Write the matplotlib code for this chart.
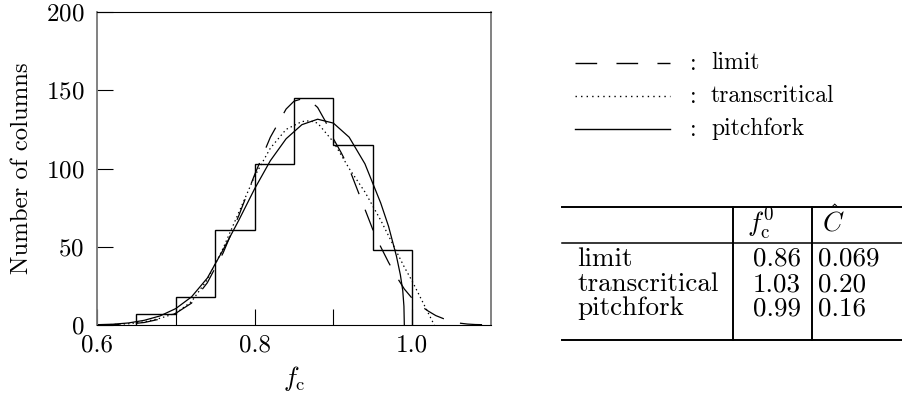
import matplotlib
matplotlib.use("Agg")
import matplotlib.pyplot as plt
from matplotlib.lines import Line2D

plt.rcParams['font.family'] = ['cmr10']
plt.rcParams['mathtext.fontset'] = 'cm'
plt.rcParams['axes.formatter.use_mathtext'] = True
plt.rcParams['lines.scale_dashes'] = False

# histogram of columns
bin_edges = [0.65, 0.70, 0.75, 0.80, 0.85, 0.90, 0.95, 1.00]
counts = [7, 18, 61, 103, 145, 115, 48]

# fitted curves
limit_x = [0.60, 0.62, 0.64, 0.66, 0.68, 0.70, 0.72, 0.74, 0.76, 0.78, 0.80, 0.82, 0.84,
           0.85, 0.86, 0.87, 0.88, 0.89, 0.90, 0.91, 0.92, 0.93, 0.94, 0.95, 0.96, 0.97,
           0.98, 0.99, 1.00, 1.01, 1.02, 1.03, 1.04, 1.05, 1.06, 1.07, 1.08, 1.10]
limit_y = [0.05, 0.2, 0.6, 1.6, 3.8, 7.5, 14, 27, 46, 70, 96, 120, 138,
           143, 144.5, 143.5, 139, 130, 119, 110, 100, 87, 74, 61, 50, 40,
           31, 23, 17, 12.5, 9, 6, 4, 2.4, 1.2, 0.6, 0.3, 0.1]

trans_x = [0.60, 0.62, 0.64, 0.66, 0.68, 0.70, 0.72, 0.74, 0.76, 0.78, 0.80, 0.82, 0.84,
           0.86, 0.87, 0.88, 0.90, 0.92, 0.94, 0.96, 0.98, 0.99, 1.00, 1.01, 1.02, 1.028]
trans_y = [0.1, 0.3, 0.8, 2, 4.3, 7.5, 15, 29, 49, 72, 95, 113, 125,
           130, 130.5, 129, 117, 100, 85, 67, 47, 37, 28, 18, 8, 0]

pitch_x = [0.60, 0.62, 0.64, 0.66, 0.68, 0.70, 0.72, 0.74, 0.76, 0.78, 0.80, 0.82, 0.84,
           0.86, 0.88, 0.90, 0.92, 0.94, 0.96, 0.97, 0.98, 0.985, 0.988, 0.9895, 0.99]
pitch_y = [0.2, 0.5, 1.3, 3, 5.8, 10.5, 18, 30, 48, 67, 87, 105, 119,
           128, 131.5, 129, 120, 103, 78, 63, 44, 32, 22, 12, 0]

# table values
models = ['limit', 'transcritical', 'pitchfork']
fc0 = ['0.86', '1.03', '0.99']
chat = ['0.069', '0.20', '0.16']

fig = plt.figure(figsize=(9.02, 3.97), dpi=100)
ax = fig.add_axes([97/902, 1-325/397, 394/902, 313/397])

ax.stairs(counts, bin_edges, baseline=0, color='k', lw=1.0)
ax.plot(limit_x, limit_y, color='k', lw=0.9, dashes=(16, 12))
ax.plot(trans_x, trans_y, color='k', lw=0.9, dashes=(1, 2.2))
ax.plot(pitch_x, pitch_y, color='k', lw=0.9)

ax.set_xlim(0.6, 1.1)
ax.set_ylim(0, 200)
ax.set_xticks([0.6, 0.8, 1.0])
ax.set_xticklabels(['0.6', '0.8', '1.0'])
ax.set_xticks([0.7, 0.9], minor=True)
ax.set_yticks([0, 50, 100, 150, 200])
ax.tick_params(axis='both', which='both', direction='in', length=11.5, width=0.8,
               labelsize=18, top=False, right=False)
ax.tick_params(axis='x', pad=7)
ax.tick_params(axis='y', pad=9)
for s in ['left', 'right']:
    ax.spines[s].set_color('#777777')
    ax.spines[s].set_linewidth(1.3)
for s in ['top', 'bottom']:
    ax.spines[s].set_color('k')
    ax.spines[s].set_linewidth(0.8)

ax.set_xlabel(r'$f_\mathrm{c}$', fontsize=19, labelpad=5)
ax.set_ylabel('Number of columns', fontsize=17.8, labelpad=9)

# overlay in pixel coordinates for legend and table
ov = fig.add_axes([0, 0, 1, 1])
ov.set_xlim(0, 902)
ov.set_ylim(397, 0)
ov.axis('off')

styles = [dict(dashes=(15.6, 13.9)), dict(dashes=(1, 3)), dict()]
for i, (m, st) in enumerate(zip(models, styles)):
    yy = 63 + 33 * i
    ov.add_line(Line2D([575, 670], [yy, yy], color='k', lw=1.0, **st))
    ov.text(690, yy + 1, ':', fontsize=17, va='center', ha='left', fontweight='bold')
    ov.text(711, yy, m, fontsize=17, va='center', ha='left')

# table
ov.add_line(Line2D([562, 902], [207, 207], color='k', lw=1.4))
ov.add_line(Line2D([562, 902], [243, 243], color='k', lw=1.1))
ov.add_line(Line2D([562, 902], [340, 340], color='k', lw=1.4))
for xv in [733, 812]:
    ov.add_line(Line2D([xv, xv], [207, 340], color='k', lw=1.4))
ov.text(747, 232, r'$f_\mathrm{c}^0$', fontsize=19.5, va='baseline', ha='left')
ov.text(822, 231, r'$\hat{C}$', fontsize=19.5, va='baseline', ha='left')
for i, m in enumerate(models):
    yb = [266, 291, 315][i]
    ov.text(577, yb, m, fontsize=19.5, va='baseline', ha='left')
    ov.text(753, yb, fc0[i], fontsize=19.5, va='baseline', ha='left')
    ov.text(818, yb, chat[i], fontsize=19.5, va='baseline', ha='left')

fig.savefig('out.png', dpi=100)
